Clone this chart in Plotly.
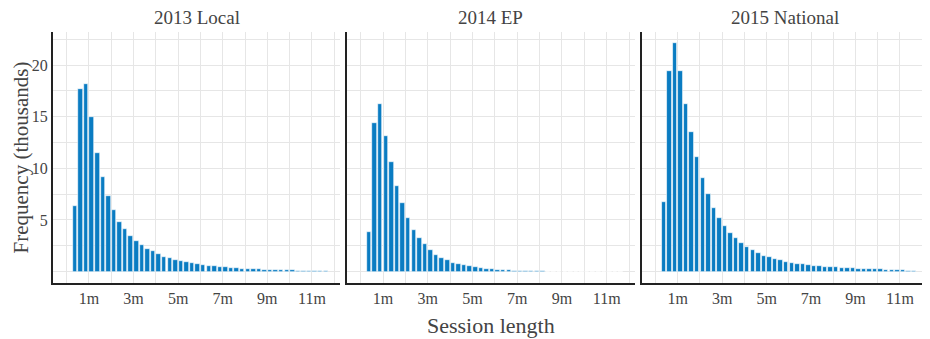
import plotly.graph_objects as go
from plotly.subplots import make_subplots

panel_titles = ["2013 Local", "2014 EP", "2015 National"]

# bin centres in minutes (15-second bins starting at 15s)
bin_minutes = [0.375 + 0.25 * k for k in range(46)]

local_2013 = [6.35, 17.68, 18.19, 14.94, 11.52, 9.13, 7.29, 5.94, 4.81, 4.13,
              3.48, 3.0, 2.58, 2.19, 1.97, 1.74, 1.45, 1.32, 1.16, 1.03,
              0.92, 0.84, 0.74, 0.66, 0.58, 0.52, 0.47, 0.42, 0.38, 0.34,
              0.30, 0.27, 0.24, 0.22, 0.20, 0.18, 0.16, 0.14, 0.13, 0.12,
              0.10, 0.09, 0.08, 0.07, 0.05, 0.03]

ep_2014 = [3.81, 14.39, 16.19, 13.16, 10.58, 8.32, 6.61, 5.19, 4.03, 3.26,
           2.65, 2.06, 1.61, 1.30, 1.08, 0.88, 0.74, 0.61, 0.53, 0.42,
           0.35, 0.29, 0.23, 0.19, 0.16, 0.13, 0.11, 0.09, 0.07, 0.04,
           0.02, 0.02, 0.01, 0.01, 0.01, 0.01, 0.01, 0.01, 0.01, 0.01,
           0.01, 0.01, 0.01, 0.01, 0.01, 0.01]

national_2015 = [6.74, 19.39, 22.1, 19.42, 16.23, 13.55, 11.1, 9.1, 7.52, 6.16,
                 5.16, 4.42, 3.77, 3.26, 2.74, 2.35, 2.06, 1.77, 1.52, 1.39,
                 1.19, 1.10, 0.97, 0.86, 0.77, 0.70, 0.64, 0.57, 0.52, 0.48,
                 0.45, 0.41, 0.38, 0.35, 0.32, 0.29, 0.27, 0.25, 0.23, 0.21,
                 0.19, 0.17, 0.15, 0.13, 0.11, 0.09]

series = [local_2013, ep_2014, national_2015]

x_tick_vals = [1, 3, 5, 7, 9, 11]
x_tick_text = ["1m", "3m", "5m", "7m", "9m", "11m"]
y_grid_vals = [0, 2.5, 5, 7.5, 10, 12.5, 15, 17.5, 20, 22.5]
y_grid_text = ["", "", "5", "", "10", "", "15", "", "20", ""]

FONT = "Liberation Serif"
TXT = "#444444"
BAR = "#0a7cc2"

fig = make_subplots(rows=1, cols=3, shared_yaxes=True,
                    horizontal_spacing=0.008,
                    subplot_titles=panel_titles)

for i, vals in enumerate(series):
    fig.add_trace(go.Bar(x=bin_minutes, y=vals, width=0.2,
                         marker=dict(color=BAR, line=dict(color="white", width=0.6)),
                         showlegend=False, hoverinfo="x+y"),
                  row=1, col=i + 1)

domains = [[0.0, 0.328], [0.336, 0.665], [0.673, 1.0]]
for i in range(3):
    xa = "xaxis" if i == 0 else f"xaxis{i+1}"
    ya = "yaxis" if i == 0 else f"yaxis{i+1}"
    fig.layout[xa].update(
        domain=domains[i], range=[-0.61, 12.26],
        tickvals=x_tick_vals, ticktext=x_tick_text,
        showgrid=True, gridcolor="#e6e6e6", gridwidth=1,
        minor=dict(dtick=1, tick0=0, showgrid=True, gridcolor="#e6e6e6", gridwidth=1),
        showline=True, linecolor="#222222", linewidth=2,
        zeroline=False, ticks="", automargin=False,
        tickfont=dict(family=FONT, size=16, color=TXT))
    fig.layout[ya].update(
        range=[-1.1, 23.2],
        tickvals=y_grid_vals, ticktext=y_grid_text,
        showgrid=True, gridcolor="#e6e6e6", gridwidth=1,
        showline=True, linecolor="#222222", linewidth=2,
        zeroline=False, ticks="", showticklabels=(i == 0), automargin=False,
        tickfont=dict(family=FONT, size=16, color=TXT))

for ann in fig.layout.annotations:
    ann.font = dict(family=FONT, size=19, color=TXT)
    ann.yshift = 2

fig.add_annotation(text="Frequency (thousands)", xref="paper", yref="paper",
                   x=0, y=0.5, xshift=-33, textangle=-90,
                   xanchor="center", yanchor="middle", showarrow=False,
                   font=dict(family=FONT, size=21, color=TXT))

fig.add_annotation(text="Session length", xref="paper", yref="paper",
                   x=0.5, y=0, yshift=-42, xanchor="center", yanchor="middle",
                   showarrow=False, font=dict(family=FONT, size=22, color=TXT))

fig.update_layout(width=930, height=339,
                  margin=dict(l=45, r=10, t=24, b=64, autoexpand=False),
                  paper_bgcolor="white", plot_bgcolor="white",
                  bargap=0, font=dict(family=FONT, color=TXT))

fig.write_html("out.html")
